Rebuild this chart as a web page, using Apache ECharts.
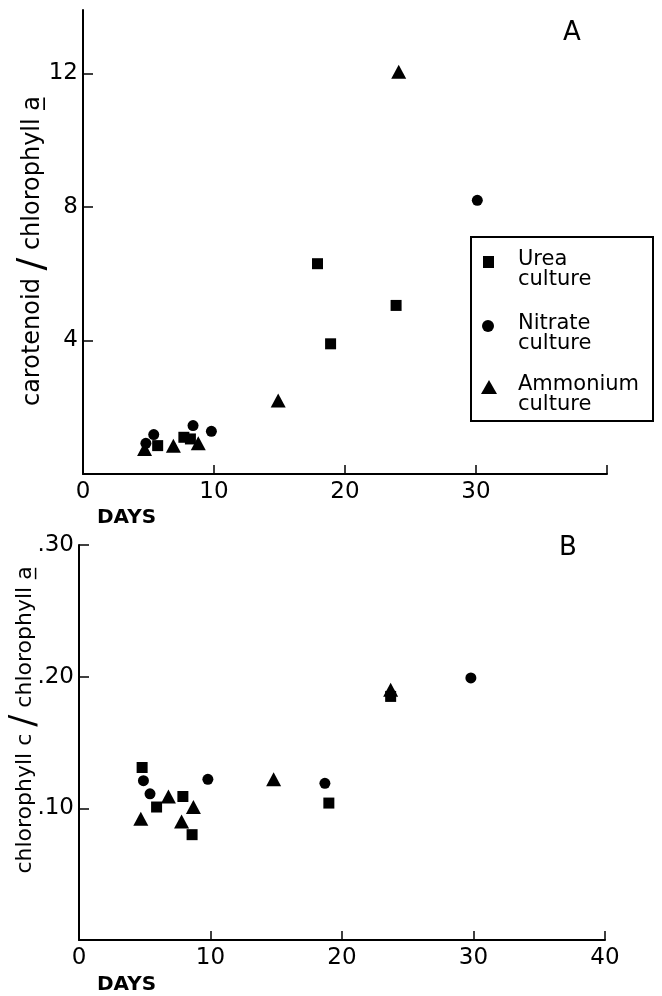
<!DOCTYPE html>
<html>
<head>
<meta charset="utf-8">
<script src="https://cdn.jsdelivr.net/npm/echarts@6.0.0/dist/echarts.min.js"></script>
<style>
    html, body { margin: 0; padding: 0; background: #fff; }
    #chart { width: 662px; height: 996px; }
</style>
</head>
<body>
<div id="chart"></div>
<script>
    var FONT = 'DejaVu Sans';

    // panel A: carotenoid / chlorophyll a against days
    var ureaDaysA = [5.7, 7.7, 8.2, 17.9, 18.9, 23.9];
    var ureaA = [0.85, 1.1, 1.05, 6.3, 3.9, 5.05];
    var nitrateDaysA = [4.8, 5.4, 8.4, 9.8, 30.1];
    var nitrateA = [0.92, 1.18, 1.45, 1.28, 8.2];
    var ammoniumDaysA = [4.7, 6.9, 8.8, 14.9, 24.1];
    var ammoniumA = [0.75, 0.85, 0.92, 2.2, 12.05];

    // panel B: chlorophyll c / chlorophyll a against days
    var ureaDaysB = [4.8, 5.9, 7.9, 8.6, 19.0, 23.7];
    var ureaB = [0.131, 0.101, 0.109, 0.080, 0.104, 0.185];
    var nitrateDaysB = [4.9, 5.4, 9.8, 18.7, 29.8];
    var nitrateB = [0.121, 0.111, 0.122, 0.119, 0.199];
    var ammoniumDaysB = [4.7, 6.8, 7.8, 8.7, 14.8, 23.7];
    var ammoniumB = [0.092, 0.109, 0.090, 0.101, 0.122, 0.190];

    // tick labels
    var xLabelsA = [0, 10, 20, 30];
    var xLabelsB = [0, 10, 20, 30, 40];
    var xTicks = [10, 20, 30, 40];
    var yTicksA = [4, 8, 12];
    var yTicksB = [0.1, 0.2, 0.3];

    var legendNames = [['Urea', 'culture'], ['Nitrate', 'culture'], ['Ammonium', 'culture']];

    function pairs(xs, ys) {
        return xs.map(function(x, i) { return [x, ys[i]]; });
    }

    var axisLine = { lineStyle: { color: '#000', width: 2 } };
    var labelStyle = { color: '#000', fontFamily: FONT, fontSize: 23 };

    function xAxis(gridIndex, labels) {
        return {
            type: 'value', gridIndex: gridIndex, min: 0, max: 40,
            axisLine: axisLine,
            axisTick: { inside: true, length: 9, customValues: xTicks, lineStyle: { color: '#000', width: 1.5 } },
            axisLabel: Object.assign({ margin: 7, customValues: labels }, labelStyle),
            splitLine: { show: false }
        };
    }

    function yAxis(gridIndex, max, ticks, fmt) {
        return {
            type: 'value', gridIndex: gridIndex, min: 0, max: max,
            axisLine: axisLine,
            axisTick: { inside: true, length: 10, customValues: ticks, lineStyle: { color: '#000', width: 1.5 } },
            axisLabel: Object.assign({ margin: 5, customValues: ticks, formatter: fmt }, labelStyle),
            splitLine: { show: false }
        };
    }

    var shapes = [
        { symbol: 'rect', size: 11 },
        { symbol: 'circle', size: 11 },
        { symbol: 'triangle', size: [15, 14] }
    ];

    function scatter(idx, shape, data) {
        return {
            type: 'scatter', xAxisIndex: idx, yAxisIndex: idx,
            symbol: shape.symbol, symbolSize: shape.size,
            itemStyle: { color: '#000', opacity: 1 },
            emphasis: { disabled: true },
            data: data, silent: true
        };
    }

    function legendGraphic() {
        var items = [];
        var left = 471, top = 237;
        items.push({ type: 'rect', shape: { x: left, y: top, width: 182, height: 184 },
            style: { fill: 'none', stroke: '#000', lineWidth: 2 } });
        var rows = [262, 326, 387];
        items.push({ type: 'rect', shape: { x: 483, y: rows[0] - 6, width: 11, height: 12 }, style: { fill: '#000' } });
        items.push({ type: 'circle', shape: { cx: 488, cy: rows[1], r: 6 }, style: { fill: '#000' } });
        items.push({ type: 'polygon', shape: { points: [[489, rows[2] - 7], [497, rows[2] + 7], [481, rows[2] + 7]] }, style: { fill: '#000' } });
        legendNames.forEach(function(n, i) {
            items.push({ type: 'text', x: 518, y: rows[i] - 2,
                style: { text: n[0], fill: '#000', font: '21px ' + FONT, textVerticalAlign: 'middle' } });
            items.push({ type: 'text', x: 518, y: rows[i] + 18,
                style: { text: n[1], fill: '#000', font: '21px ' + FONT, textVerticalAlign: 'middle' } });
        });
        return items;
    }

    function vName(x, y, text, size) {
        return {
            type: 'text', x: x, y: y, rotation: Math.PI / 2,
            style: {
                text: text, fill: '#000', fontFamily: FONT, fontSize: size,
                textAlign: 'center', textVerticalAlign: 'middle',
                rich: { s: { fontFamily: FONT, fontSize: size + 14, fill: '#000' } }
            }
        };
    }

    function plain(x, y, text, size, weight, align) {
        return {
            type: 'text', x: x, y: y,
            style: { text: text, fill: '#000', font: (weight || 'normal') + ' ' + size + 'px ' + FONT,
                textAlign: align || 'center', textVerticalAlign: 'middle' }
        };
    }

    var chart = echarts.init(document.getElementById('chart'), null, { renderer: 'canvas' });

    var option = {
        backgroundColor: '#fff',
        animation: false,
        grid: [
            { left: 83, top: 10, width: 524, height: 464 },
            { left: 79, top: 545, width: 526, height: 395 }
        ],
        xAxis: [xAxis(0, xLabelsA), xAxis(1, xLabelsB)],
        yAxis: [
            yAxis(0, 13.9, yTicksA, function(v) { return String(v); }),
            yAxis(1, 0.3, yTicksB, function(v) { return v.toFixed(2).slice(1); })
        ],
        series: [
            scatter(0, shapes[0], pairs(ureaDaysA, ureaA)),
            scatter(0, shapes[1], pairs(nitrateDaysA, nitrateA)),
            scatter(0, shapes[2], pairs(ammoniumDaysA, ammoniumA)),
            scatter(1, shapes[0], pairs(ureaDaysB, ureaB)),
            scatter(1, shapes[1], pairs(nitrateDaysB, nitrateB)),
            scatter(1, shapes[2], pairs(ammoniumDaysB, ammoniumB))
        ],
        graphic: [
            plain(572, 33, 'A', 26),
            plain(568, 548, 'B', 26),
            plain(97, 518, 'DAYS', 20, 'bold', 'left'),
            plain(97, 985, 'DAYS', 20, 'bold', 'left'),
            vName(33, 251, 'carotenoid {s|/} chlorophyll a\u0332', 24),
            vName(25, 720, 'chlorophyll c {s|/} chlorophyll a\u0332', 22)
        ].concat(legendGraphic())
    };

    chart.setOption(option);
</script>
</body>
</html>
